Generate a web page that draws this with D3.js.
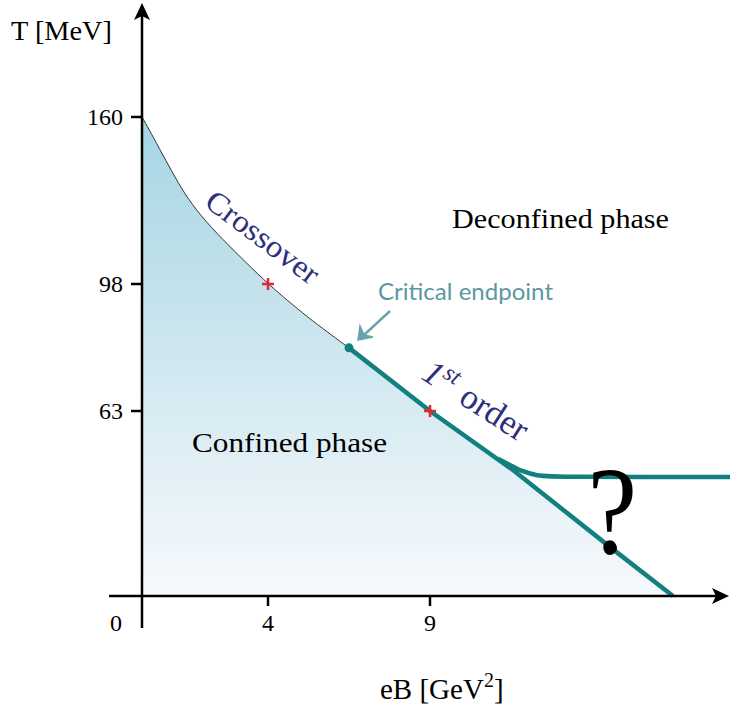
<!DOCTYPE html>
<html lang="en">
	<head>
		<meta charset="utf-8">
		<title>phase diagram</title>
		<script type="text/javascript" src="https://cdn.jsdelivr.net/npm/d3@7"></script>
		<style type="text/css">
			body { margin: 0; background: #fff; }
			svg { display: block; }
			text { font-family: "Liberation Serif", serif; }
		</style>
	</head>
	<body>
		<script type="text/javascript">

			// tick values (the drawing is schematic, so scales are piecewise)
			var xTicks = [0, 4, 9]
			var yTicks = [0, 63, 98, 160]

			// crossover line, eB in GeV^2, T in MeV
			var crossEB = [0, 0.22, 0.54, 0.96, 1.35, 1.85, 2.56, 3.3, 4, 5.2, 6.5]
			var crossT  = [160, 155.5, 148.5, 139.5, 131.5, 123.5, 114.5, 106, 98, 88.9, 80.4]

			// first order line down to the axis
			var firstEB = [6.5, 9, 11.56, 14.6, 16.5]
			var firstT  = [80.4, 63, 42.9, 16.3, 0]

			// branch that levels off
			var branchEB = [11.1, 11.5, 11.85, 12.3, 12.8, 18.5]
			var branchT  = [46.7, 44.4, 42.4, 41.0, 40.5, 40.5]

			// markers
			var crossMarks = [[4, 98], [9, 63]]
			var endpoint = [6.5, 80.4]
			var qPoint = [14.6, 16.3]

			var w = 730, h = 709
			var teal = "#12807f"
			var navy = "#2c2f7c"

			var svg = d3.select("body").append("svg").attr("width", w).attr("height", h)

			var x = d3.scaleLinear().domain([0, 4, 9]).range([142, 268, 430])
			var y = d3.scaleLinear().domain([0, 63, 98, 160]).range([596, 411, 284, 117])

			var defs = svg.append("defs")
			var grad = defs.append("linearGradient")
				.attr("id", "fillgrad")
				.attr("gradientUnits", "userSpaceOnUse")
				.attr("x1", 0).attr("y1", y(160))
				.attr("x2", 0).attr("y2", y(0))
			grad.append("stop").attr("offset", "0%").attr("stop-color", "#a5d5e4")
			grad.append("stop").attr("offset", "55%").attr("stop-color", "#d3e9f1")
			grad.append("stop").attr("offset", "100%").attr("stop-color", "#f7f9fd")

			var line = d3.line().curve(d3.curveBasis)
			var crossPts = crossEB.map(function(d, i) { return [x(d), y(crossT[i])] })
			var firstPts = firstEB.map(function(d, i) { return [x(d), y(firstT[i])] })
			var branchPts = branchEB.map(function(d, i) { return [x(d), y(branchT[i])] })

			// filled confined region
			var areaD = line(crossPts)
			firstPts.slice(1).forEach(function(p) { areaD += "L" + p[0] + "," + p[1] })
			areaD += "L" + x(0) + "," + y(0) + "Z"
			svg.append("path")
				.attr("d", areaD)
				.attr("fill", "url(#fillgrad)")

			svg.append("path")
				.attr("d", line(crossPts))
				.attr("fill", "none")
				.attr("stroke", "#333")
				.attr("stroke-width", 1)

			svg.append("path")
				.attr("d", d3.line()(firstPts))
				.attr("fill", "none")
				.attr("stroke", teal)
				.attr("stroke-width", 4.5)

			svg.append("path")
				.attr("d", d3.line().curve(d3.curveBasis)(branchPts))
				.attr("fill", "none")
				.attr("stroke", teal)
				.attr("stroke-width", 4.5)

			// axes
			svg.append("line").attr("x1", 109).attr("y1", y(0)).attr("x2", 718).attr("y2", y(0))
				.attr("stroke", "black").attr("stroke-width", 2.5)
			svg.append("path").attr("d", "M729," + y(0) + "L712," + (y(0) - 8) + "L716," + y(0) + "L712," + (y(0) + 8) + "Z")
				.attr("fill", "black")
			svg.append("line").attr("x1", x(0)).attr("y1", 628).attr("x2", x(0)).attr("y2", 14)
				.attr("stroke", "black").attr("stroke-width", 2.5)
			svg.append("path").attr("d", "M" + x(0) + ",3L" + (x(0) - 8) + ",20L" + x(0) + ",16L" + (x(0) + 8) + ",20Z")
				.attr("fill", "black")

			svg.selectAll(".xtick")
				.data(xTicks.slice(1))
				.enter()
				.append("line")
				.attr("x1", function(d) { return x(d) }).attr("x2", function(d) { return x(d) })
				.attr("y1", y(0)).attr("y2", y(0) + 10)
				.attr("stroke", "black").attr("stroke-width", 2.5)

			svg.selectAll(".xlab")
				.data(xTicks)
				.enter()
				.append("text")
				.attr("x", function(d) { return d == 0 ? 116 : x(d) })
				.attr("y", 631)
				.attr("text-anchor", "middle")
				.attr("font-size", "24px")
				.text(function(d) { return d })

			svg.selectAll(".ytick")
				.data(yTicks.slice(1))
				.enter()
				.append("line")
				.attr("x1", x(0) - 11).attr("x2", x(0))
				.attr("y1", function(d) { return y(d) }).attr("y2", function(d) { return y(d) })
				.attr("stroke", "black").attr("stroke-width", 2.5)

			svg.selectAll(".ylab")
				.data(yTicks.slice(1))
				.enter()
				.append("text")
				.attr("x", 123)
				.attr("y", function(d) { return y(d) + 8 })
				.attr("text-anchor", "end")
				.attr("font-size", "24px")
				.text(function(d) { return d })

			svg.append("text").attr("x", 11).attr("y", 40).attr("font-size", "27px")
				.attr("textLength", 101).attr("lengthAdjust", "spacingAndGlyphs").text("T [MeV]")
			var xl = svg.append("text").attr("x", 380).attr("y", 699).attr("font-size", "29px")
			xl.append("tspan").text("eB [GeV")
			xl.append("tspan").attr("dy", -12).attr("font-size", "20px").text("2")
			xl.append("tspan").attr("dy", 12).text("]")

			// phase labels
			svg.append("text").attr("x", 452).attr("y", 228).attr("font-size", "27px")
				.attr("textLength", 217).attr("lengthAdjust", "spacingAndGlyphs").text("Deconfined phase")
			svg.append("text").attr("x", 192).attr("y", 452).attr("font-size", "27px")
				.attr("textLength", 195).attr("lengthAdjust", "spacingAndGlyphs").text("Confined phase")

			svg.append("text")
				.attr("transform", "translate(203,205) rotate(37)")
				.attr("font-size", "31px")
				.attr("fill", navy)
				.attr("textLength", 134).attr("lengthAdjust", "spacingAndGlyphs")
				.text("Crossover")

			var fo = svg.append("text")
				.attr("transform", "translate(420,378) rotate(33)")
				.attr("font-size", "35px")
				.attr("fill", navy)
			fo.append("tspan").attr("font-style", "italic").text("1")
			fo.append("tspan").attr("dy", -13).attr("font-size", "24px").attr("font-style", "italic").text("st")
			fo.append("tspan").attr("dy", 13).attr("dx", 11).text("order")

			// critical endpoint
			svg.append("text")
				.attr("x", 378).attr("y", 300)
				.attr("font-size", "23px")
				.attr("fill", "#5b98a1")
				.style("font-family", "Lato, sans-serif")
				.attr("textLength", 175).attr("lengthAdjust", "spacingAndGlyphs")
				.text("Critical endpoint")
			svg.append("line").attr("x1", 390).attr("y1", 311).attr("x2", 364).attr("y2", 335)
				.attr("stroke", "#6aa3ad").attr("stroke-width", 2.5)
			svg.append("path").attr("d", "M358,340L360,326L364,335L373,337Z")
				.attr("fill", "#6aa3ad").attr("stroke", "#6aa3ad").attr("stroke-width", 1.5)

			svg.append("circle").attr("cx", x(endpoint[0])).attr("cy", y(endpoint[1])).attr("r", 4.5).attr("fill", teal)

			svg.selectAll(".mark")
				.data(crossMarks)
				.enter()
				.append("path")
				.attr("d", function(d) {
					var cx = x(d[0]), cy = y(d[1])
					return "M" + (cx - 6) + "," + cy + "L" + (cx + 6) + "," + cy + "M" + cx + "," + (cy - 6) + "L" + cx + "," + (cy + 6)
				})
				.attr("stroke", "#e8262b")
				.attr("stroke-width", 2.5)

			// question mark, its dot sits on the line
			svg.append("text")
				.attr("transform", "translate(" + (x(qPoint[0]) + 1) + "," + (y(qPoint[1]) + 5) + ") scale(1.12,1.25)")
				.attr("text-anchor", "middle")
				.attr("font-size", "100px")
				.text("?")
			svg.append("circle").attr("cx", x(qPoint[0])).attr("cy", y(qPoint[1])).attr("r", 5.5).attr("fill", "black")

		</script>
	</body>
</html>
